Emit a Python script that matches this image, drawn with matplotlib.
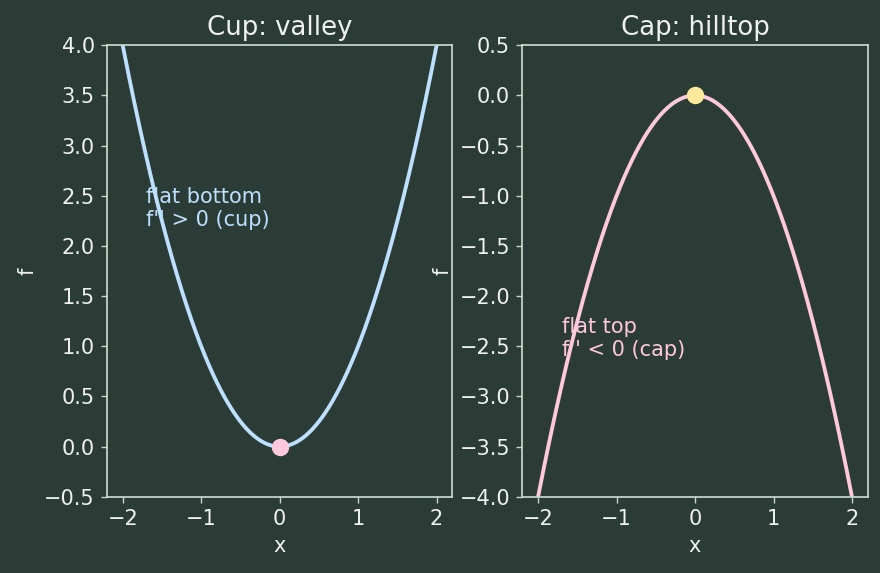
import numpy as np
import matplotlib
matplotlib.use('Agg')
import matplotlib.pyplot as plt

# Data
x = np.linspace(-2, 2, 401)
cup_y = x ** 2
cap_y = -x ** 2
extremum_x = [0.0]
cup_min = [0.0]
cap_max = [0.0]

titles = ['Cup: valley', 'Cap: hilltop']
notes = ["flat bottom\nf'' > 0 (cup)", "flat top\nf'' < 0 (cap)"]

bg = '#2b3b35'
fg = '#eef2ee'
spine = '#c5d9cc'
blue = '#bde0fe'
pink = '#ffc8dd'
yellow = '#ffe99a'

plt.rcParams['font.size'] = 12
plt.rcParams['text.color'] = fg
plt.rcParams['axes.labelcolor'] = fg
plt.rcParams['xtick.color'] = spine
plt.rcParams['ytick.color'] = spine
plt.rcParams['xtick.labelcolor'] = fg
plt.rcParams['ytick.labelcolor'] = fg
plt.rcParams['axes.linewidth'] = 1.0

fig, axes = plt.subplots(1, 2, figsize=(7.04, 4.584), dpi=125)
fig.patch.set_facecolor(bg)
fig.subplots_adjust(left=0.1216, right=0.986, bottom=0.133, top=0.921, wspace=0.203)

for ax in axes:
    ax.set_facecolor(bg)
    for s in ax.spines.values():
        s.set_color(spine)

# Left: cup
ax1 = axes[0]
ax1.plot(x, cup_y, color=blue, linewidth=2.2)
ax1.plot(extremum_x, cup_min, 'o', color=pink, markersize=9, zorder=4)
ax1.set_ylim(-0.5, 4.0)
ax1.set_title(titles[0], fontsize=15, color=fg)
ax1.set_xlabel('x')
ax1.set_ylabel('f')
ax1.text(-1.7, 2.2, notes[0], color=blue, fontsize=12, zorder=1)

# Right: cap
ax2 = axes[1]
ax2.plot(x, cap_y, color=pink, linewidth=2.2)
ax2.plot(extremum_x, cap_max, 'o', color=yellow, markersize=9, zorder=4)
ax2.set_ylim(-4.0, 0.5)
ax2.set_title(titles[1], fontsize=15, color=fg)
ax2.set_xlabel('x')
ax2.set_ylabel('f')
ax2.text(-1.7, -2.6, notes[1], color=pink, fontsize=12, zorder=1)

fig.savefig('out.png', dpi=125, facecolor=bg)
